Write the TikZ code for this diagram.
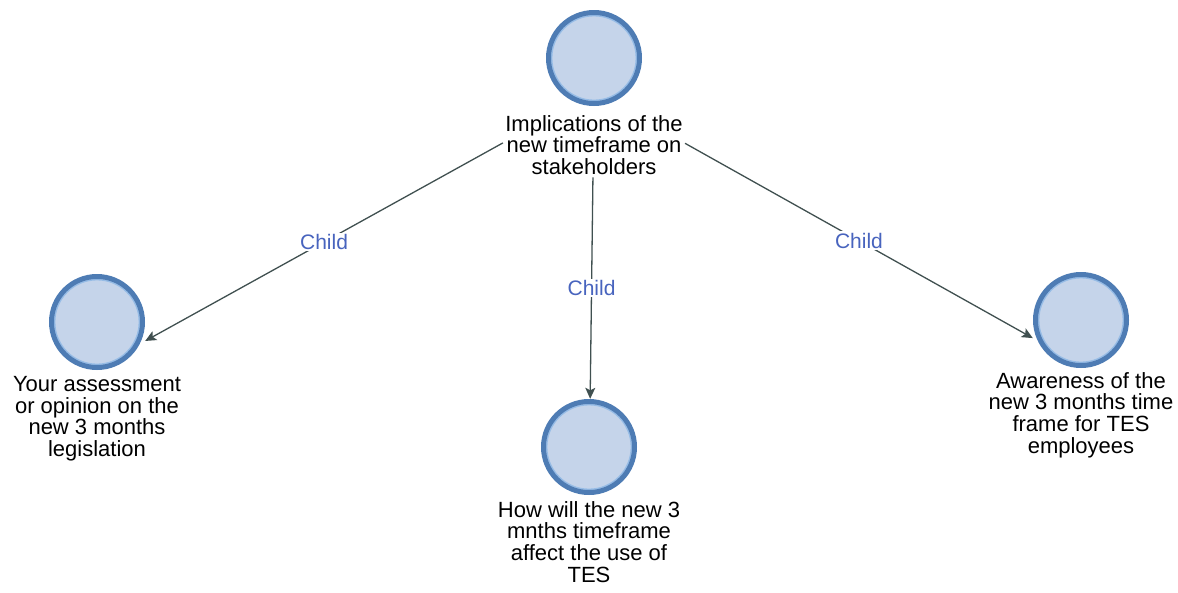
\documentclass[tikz,border=0pt]{standalone}
\usepackage{fontspec}
\setmainfont{Liberation Sans}
\usetikzlibrary{fit,intersections,arrows.meta}
\definecolor{ringblue}{RGB}{78,124,180}
\definecolor{ringlight}{RGB}{150,188,230}
\definecolor{fillblue}{RGB}{197,212,234}
\definecolor{edgegray}{RGB}{64,80,80}
\definecolor{childblue}{RGB}{72,100,190}
\tikzset{
  bubble/.style={rectangle, minimum size=96pt, inner sep=0pt,
    path picture={
      \fill[fillblue] (path picture bounding box.center) circle[radius=46pt];
      \draw[ringlight, line width=1.4pt] (path picture bounding box.center) circle[radius=42.3pt];
      \draw[ringblue, line width=5pt] (path picture bounding box.center) circle[radius=45.5pt];
    }},
  caption/.style={anchor=north, align=center, inner sep=0pt, font=\fontsize{22}{21.8}\selectfont},
  group/.style={inner sep=2pt},
  link/.style={draw=edgegray, line width=1.3pt, -{Stealth[length=11pt,width=10pt,inset=2.5pt]}},
  childlbl/.style={fill=white, text=childblue, inner sep=1.5pt, font=\fontsize{21}{21}\selectfont}
}
\begin{document}
\begin{tikzpicture}[x=1pt,y=-1pt]
\useasboundingbox (0,0) rectangle (1178,592);
% top
\node[bubble] (Tc) at (594,58) {};
\node[caption] (Tt) at (594,115) {Implications of the\\new timeframe on\\stakeholders};
\node[group, fit=(Tc)(Tt)] (T) {};
% left
\node[bubble] (Lc) at (97,322) {};
\node[caption] (Lt) at (97,376) {Your assessment\\or opinion on the\\new 3 months\\legislation};
\node[group, fit=(Lc)(Lt)] (L) {};
% middle
\node[bubble] (Mc) at (589,447) {};
\node[caption] (Mt) at (589,501) {How will the new 3\\mnths timeframe\\affect the use of\\TES};
\node[group, fit=(Mc)(Mt)] (M) {};
% right
\node[bubble] (Rc) at (1081,320) {};
\node[caption] (Rt) at (1081,372) {Awareness of the\\new 3 months time\\frame for TES\\employees};
\node[group, fit=(Rc)(Rt)] (R) {};
% end points on the bounding squares of the circles
\path[name path=lineL] (T.center) -- (L.center);
\path[name path=sqL] (Lc.south west) rectangle (Lc.north east);
\path[name intersections={of=lineL and sqL, by=Lend, sort by=lineL}];
\path[name path=lineM] (T.center) -- (M.center);
\path[name path=sqM] (Mc.south west) rectangle (Mc.north east);
\path[name intersections={of=lineM and sqM, by=Mend, sort by=lineM}];
\path[name path=lineR] (T.center) -- (R.center);
\path[name path=sqR] (Rc.south west) rectangle (Rc.north east);
\path[name intersections={of=lineR and sqR, by=Rend, sort by=lineR}];
% connectors
\draw[link] (T) -- node[childlbl] {Child} (Lend);
\draw[link] (T) -- node[childlbl] {Child} (Mend);
\draw[link] (T) -- node[childlbl] {Child} (Rend);
\end{tikzpicture}
\end{document}
